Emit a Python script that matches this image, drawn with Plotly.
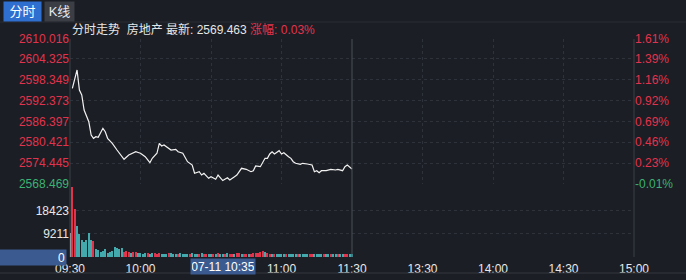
import plotly.graph_objects as go

# ---------------- data ----------------
# minute offsets since 09:30 (trading minutes) and index level
line_minutes = [1, 3, 4, 5, 6, 7, 8, 9, 10, 11, 12, 14, 15, 16, 18, 20, 22, 23, 25, 26,
                28, 29, 30, 32, 33, 34, 35, 37, 38, 39, 40, 42, 43, 45, 46, 48, 49, 50, 52, 53,
                55, 56, 57, 59, 60, 62, 63, 64, 65, 67, 68, 70, 71, 73, 75, 77, 78, 79, 81, 83,
                84, 85, 86, 87, 89, 90, 91, 93, 94, 95, 96, 98, 99, 101, 103, 104, 105, 106, 107, 109,
                111, 113, 114, 116, 117, 118, 119, 120]
line_prices = [2595.89, 2601.13, 2595.40, 2593.97, 2589.67, 2587.75, 2586.32, 2582.51, 2581.56, 2582.02,
               2581.85, 2584.43, 2583.45, 2581.56, 2580.13, 2578.21, 2576.29, 2575.55, 2576.78, 2577.07,
               2577.72, 2577.50, 2577.27, 2576.29, 2575.35, 2574.57, 2575.83, 2577.27, 2580.13, 2579.36,
               2579.64, 2578.70, 2578.21, 2578.40, 2577.72, 2577.27, 2575.83, 2574.86, 2573.91, 2571.54,
               2571.99, 2571.05, 2571.54, 2570.10, 2570.56, 2569.82, 2571.05, 2570.10, 2569.46, 2570.27,
               2569.62, 2570.56, 2571.05, 2572.97, 2572.68, 2571.99, 2572.28, 2573.63, 2573.43, 2575.83,
               2575.83, 2577.07, 2577.72, 2577.07, 2578.01, 2577.07, 2577.44, 2576.29, 2575.83, 2574.86,
               2574.40, 2574.11, 2574.40, 2574.20, 2573.91, 2571.99, 2572.28, 2571.71, 2572.28, 2572.28,
               2572.68, 2572.48, 2572.68, 2572.28, 2573.43, 2573.91, 2573.25, 2572.77]

# per-minute volume 09:30 .. 11:30 and bar direction (w = open, r = up, g = down)
volumes = [9460, 28800, 18900, 12200, 9200, 6760, 6090, 6760, 9460, 6760,
           6490, 3110, 2840, 2030, 2430, 3110, 1760, 2030, 2430, 4060,
           3380, 2980, 3380, 2030, 2200, 1900, 1500, 2100, 1800, 1500,
           1400, 1300, 1700, 1500, 1200, 1600, 1400, 1100, 1500, 1300,
           1200, 1000, 1400, 1600, 1200, 1100, 1300, 1500, 1200, 1000,
           1300, 1100, 1500, 1200, 1000, 1300, 1400, 1100, 1200, 1000,
           1300, 1100, 1200, 1400, 1000, 1200, 1300, 1500, 1100, 1200,
           1000, 1400, 1600, 1300, 1200, 1100, 1300, 1200, 1500, 1400,
           1700, 2100, 2300, 1800, 1500, 1300, 1200, 1100, 1300, 1000,
           1200, 1100, 1300, 1000, 1200, 1100, 1000, 1200, 1300, 1100,
           1000, 1200, 1100, 1000, 1300, 1100, 1000, 1200, 1100, 1000,
           1200, 1100, 1300, 1000, 1100, 1200, 1000, 1100, 1200, 1000, 1100]
vol_dirs = ['w', 'r', 'r', 'g', 'g', 'g', 'g', 'g', 'g', 'g',
            'r', 'g', 'g', 'g', 'g', 'g', 'g', 'g', 'g', 'g',
            'g', 'g', 'g', 'r', 'r', 'r', 'g', 'r', 'r', 'g',
            'g', 'g', 'g', 'r', 'g', 'g', 'r', 'r', 'r', 'g',
            'g', 'g', 'r', 'g', 'g', 'g', 'r', 'g', 'g', 'g',
            'g', 'r', 'g', 'g', 'g', 'r', 'g', 'r', 'r', 'g',
            'g', 'r', 'g', 'r', 'g', 'g', 'r', 'g', 'r', 'r',
            'g', 'r', 'r', 'g', 'r', 'r', 'g', 'r', 'r', 'r',
            'r', 'r', 'r', 'g', 'r', 'r', 'g', 'r', 'g', 'g',
            'g', 'g', 'r', 'g', 'g', 'g', 'g', 'r', 'g', 'g',
            'g', 'g', 'r', 'r', 'g', 'g', 'g', 'g', 'r', 'g',
            'g', 'r', 'g', 'g', 'r', 'g', 'g', 'r', 'r', 'g', 'g']
vol_minutes = list(range(len(volumes)))

price_ticks = [2568.469, 2574.445, 2580.421, 2586.397, 2592.373, 2598.349, 2604.325, 2610.016]
pct_labels = ['-0.01%', '0.23%', '0.46%', '0.69%', '0.92%', '1.16%', '1.39%', '1.61%']
vol_ticks = [9211, 18423]
vol_labels = ['9211', '18423']
time_ticks = [0, 30, 90, 120, 150, 180, 210, 240]
time_labels = ['09:30', '10:00', '11:00', '11:30', '13:30', '14:00', '14:30', '15:00']

price_min, price_max = 2568.469, 2610.016
vol_max = 27634
cross_minute = 65
cross_label = '07-11 10:35'
cross_volume_label = '0'

# ---------------- styling ----------------
BG = '#1b1e24'
GRID = '#2e323a'
RED = '#e2334d'
GREEN = '#3bb273'
TEAL = '#43a9ad'
FONT = 'Arial, Liberation Sans, Noto Sans CJK SC, sans-serif'
dir_color = {'w': '#e8e8e8', 'r': RED, 'g': TEAL}

fig = go.Figure()
fig.add_trace(go.Scatter(x=line_minutes, y=line_prices, mode='lines',
                         line=dict(color='#f2f2f2', width=1.2), xaxis='x', yaxis='y',
                         hoverinfo='skip'))
fig.add_trace(go.Bar(x=vol_minutes, y=volumes, marker=dict(color=[dir_color[d] for d in vol_dirs],
                     line=dict(width=0)), width=0.45, xaxis='x2', yaxis='y2', hoverinfo='skip'))
# invisible trace to activate right percentage axis
fig.add_trace(go.Scatter(x=[0], y=[price_min], mode='markers', marker=dict(opacity=0),
                         xaxis='x', yaxis='y3', hoverinfo='skip'))

left_text = [f"<span style='color:{GREEN}'>{v:.3f}</span>" if i == 0 else f"{v:.3f}"
             for i, v in enumerate(price_ticks)]
right_text = [f"<span style='color:{GREEN}'>{t}</span>" if t.startswith('-') else t for t in pct_labels]

vol_top = 70 / 218
price_bot = 73 / 218

fig.update_layout(
    width=686, height=280, paper_bgcolor=BG, plot_bgcolor=BG,
    margin=dict(l=70, r=52, t=39, b=23, autoexpand=False),
    showlegend=False, bargap=0,
    font=dict(family=FONT, size=12, color='#e0e0e0'),
    xaxis=dict(domain=[0, 1], range=[0, 240], anchor='y', showticklabels=False,
               tickvals=[30, 60, 90, 150, 180, 210], showgrid=True, gridcolor=GRID,
               griddash='dot', gridwidth=1, zeroline=False, ticks='', automargin=False),
    xaxis2=dict(domain=[0, 1], range=[0, 240], anchor='y2', tickvals=time_ticks,
                ticktext=time_labels, showgrid=False, zeroline=False, ticks='',
                tickfont=dict(size=12, color='#e8e8e8'), automargin=False,
                ticklabelstandoff=3),
    xaxis3=dict(domain=[0, 1], range=[0, 240], anchor='y2', overlaying='x2',
                tickvals=[30, 60, 90, 150, 180, 210], showticklabels=False,
                showgrid=True, gridcolor=GRID, griddash='dot', zeroline=False, automargin=False),
    yaxis=dict(domain=[price_bot, 1], range=[price_min, price_max], tickvals=price_ticks,
               ticktext=left_text, tickfont=dict(size=12, color=RED), showgrid=True,
               gridcolor=GRID, griddash='dot', zeroline=False, ticks='', side='left',
               automargin=False),
    yaxis3=dict(domain=[price_bot, 1], range=[price_min, price_max], overlaying='y',
                side='right', anchor='x', tickvals=price_ticks, ticktext=right_text,
                tickfont=dict(size=12, color=RED), showgrid=False, zeroline=False, ticks='',
                automargin=False),
    yaxis2=dict(domain=[0, vol_top], range=[0, vol_max], tickvals=vol_ticks,
                ticktext=vol_labels, tickfont=dict(size=12, color='#e8e8e8'),
                showgrid=True, gridcolor=GRID, griddash='dot', zeroline=False, ticks='',
                automargin=False),
)

shapes = [
    dict(type='line', xref='paper', yref='paper', x0=0, x1=0, y0=0, y1=1,
         line=dict(color='#3a3e46', width=1)),
    dict(type='line', xref='paper', yref='paper', x0=1, x1=1, y0=0, y1=1,
         line=dict(color='#3a3e46', width=1)),
    dict(type='line', xref='x', yref='paper', x0=120, x1=120, y0=0, y1=1,
         line=dict(color='#4a4e56', width=1)),
    dict(type='line', xref='paper', yref='paper', x0=-70 / 564, x1=1 + 52 / 564, y0=-16 / 218, y1=-16 / 218,
         line=dict(color='#34383f', width=1)),
    dict(type='line', xref='paper', yref='paper', x0=-70 / 564, x1=1 + 52 / 564, y0=1 + 17 / 218, y1=1 + 17 / 218,
         line=dict(color='#2a2d33', width=1)),
]
fig.update_layout(shapes=shapes)

annotations = [
    dict(xref='paper', yref='paper', x=-67 / 564, y=1 + 27 / 218, xanchor='left', yanchor='middle',
         text='分时', showarrow=False, bgcolor='#2e6fd0', font=dict(size=13, color='#ffffff'),
         borderpad=2, width=33, height=15),
    dict(xref='paper', yref='paper', x=-26 / 564, y=1 + 27 / 218, xanchor='left', yanchor='middle',
         text='K线', showarrow=False, bgcolor='#3b3e45', font=dict(size=13, color='#e8e8e8'),
         borderpad=2, width=25, height=15),
    dict(xref='paper', yref='paper', x=0, y=1 + 9 / 218, xanchor='left', yanchor='middle',
         text="分时走势  房地产 最新: 2569.463 <span style='color:%s'>涨幅: 0.03%%</span>" % RED,
         showarrow=False, font=dict(size=12, color='#e6e6e6')),
    dict(xref='x2', yref='paper', x=cross_minute, y=-9 / 218, xanchor='center', yanchor='middle',
         text=cross_label, showarrow=False, bgcolor='#3a5a90', font=dict(size=12, color='#ffffff'),
         borderpad=1, width=62, height=13),
    dict(xref='paper', yref='y2', x=-3 / 564, y=0, xanchor='right', yanchor='middle',
         text=cross_volume_label, showarrow=False, bgcolor='#3a5a90', font=dict(size=12, color='#ffffff'),
         borderpad=1, width=64, height=13, align='right'),
]
fig.update_layout(annotations=annotations)

fig.write_html('out.html')
